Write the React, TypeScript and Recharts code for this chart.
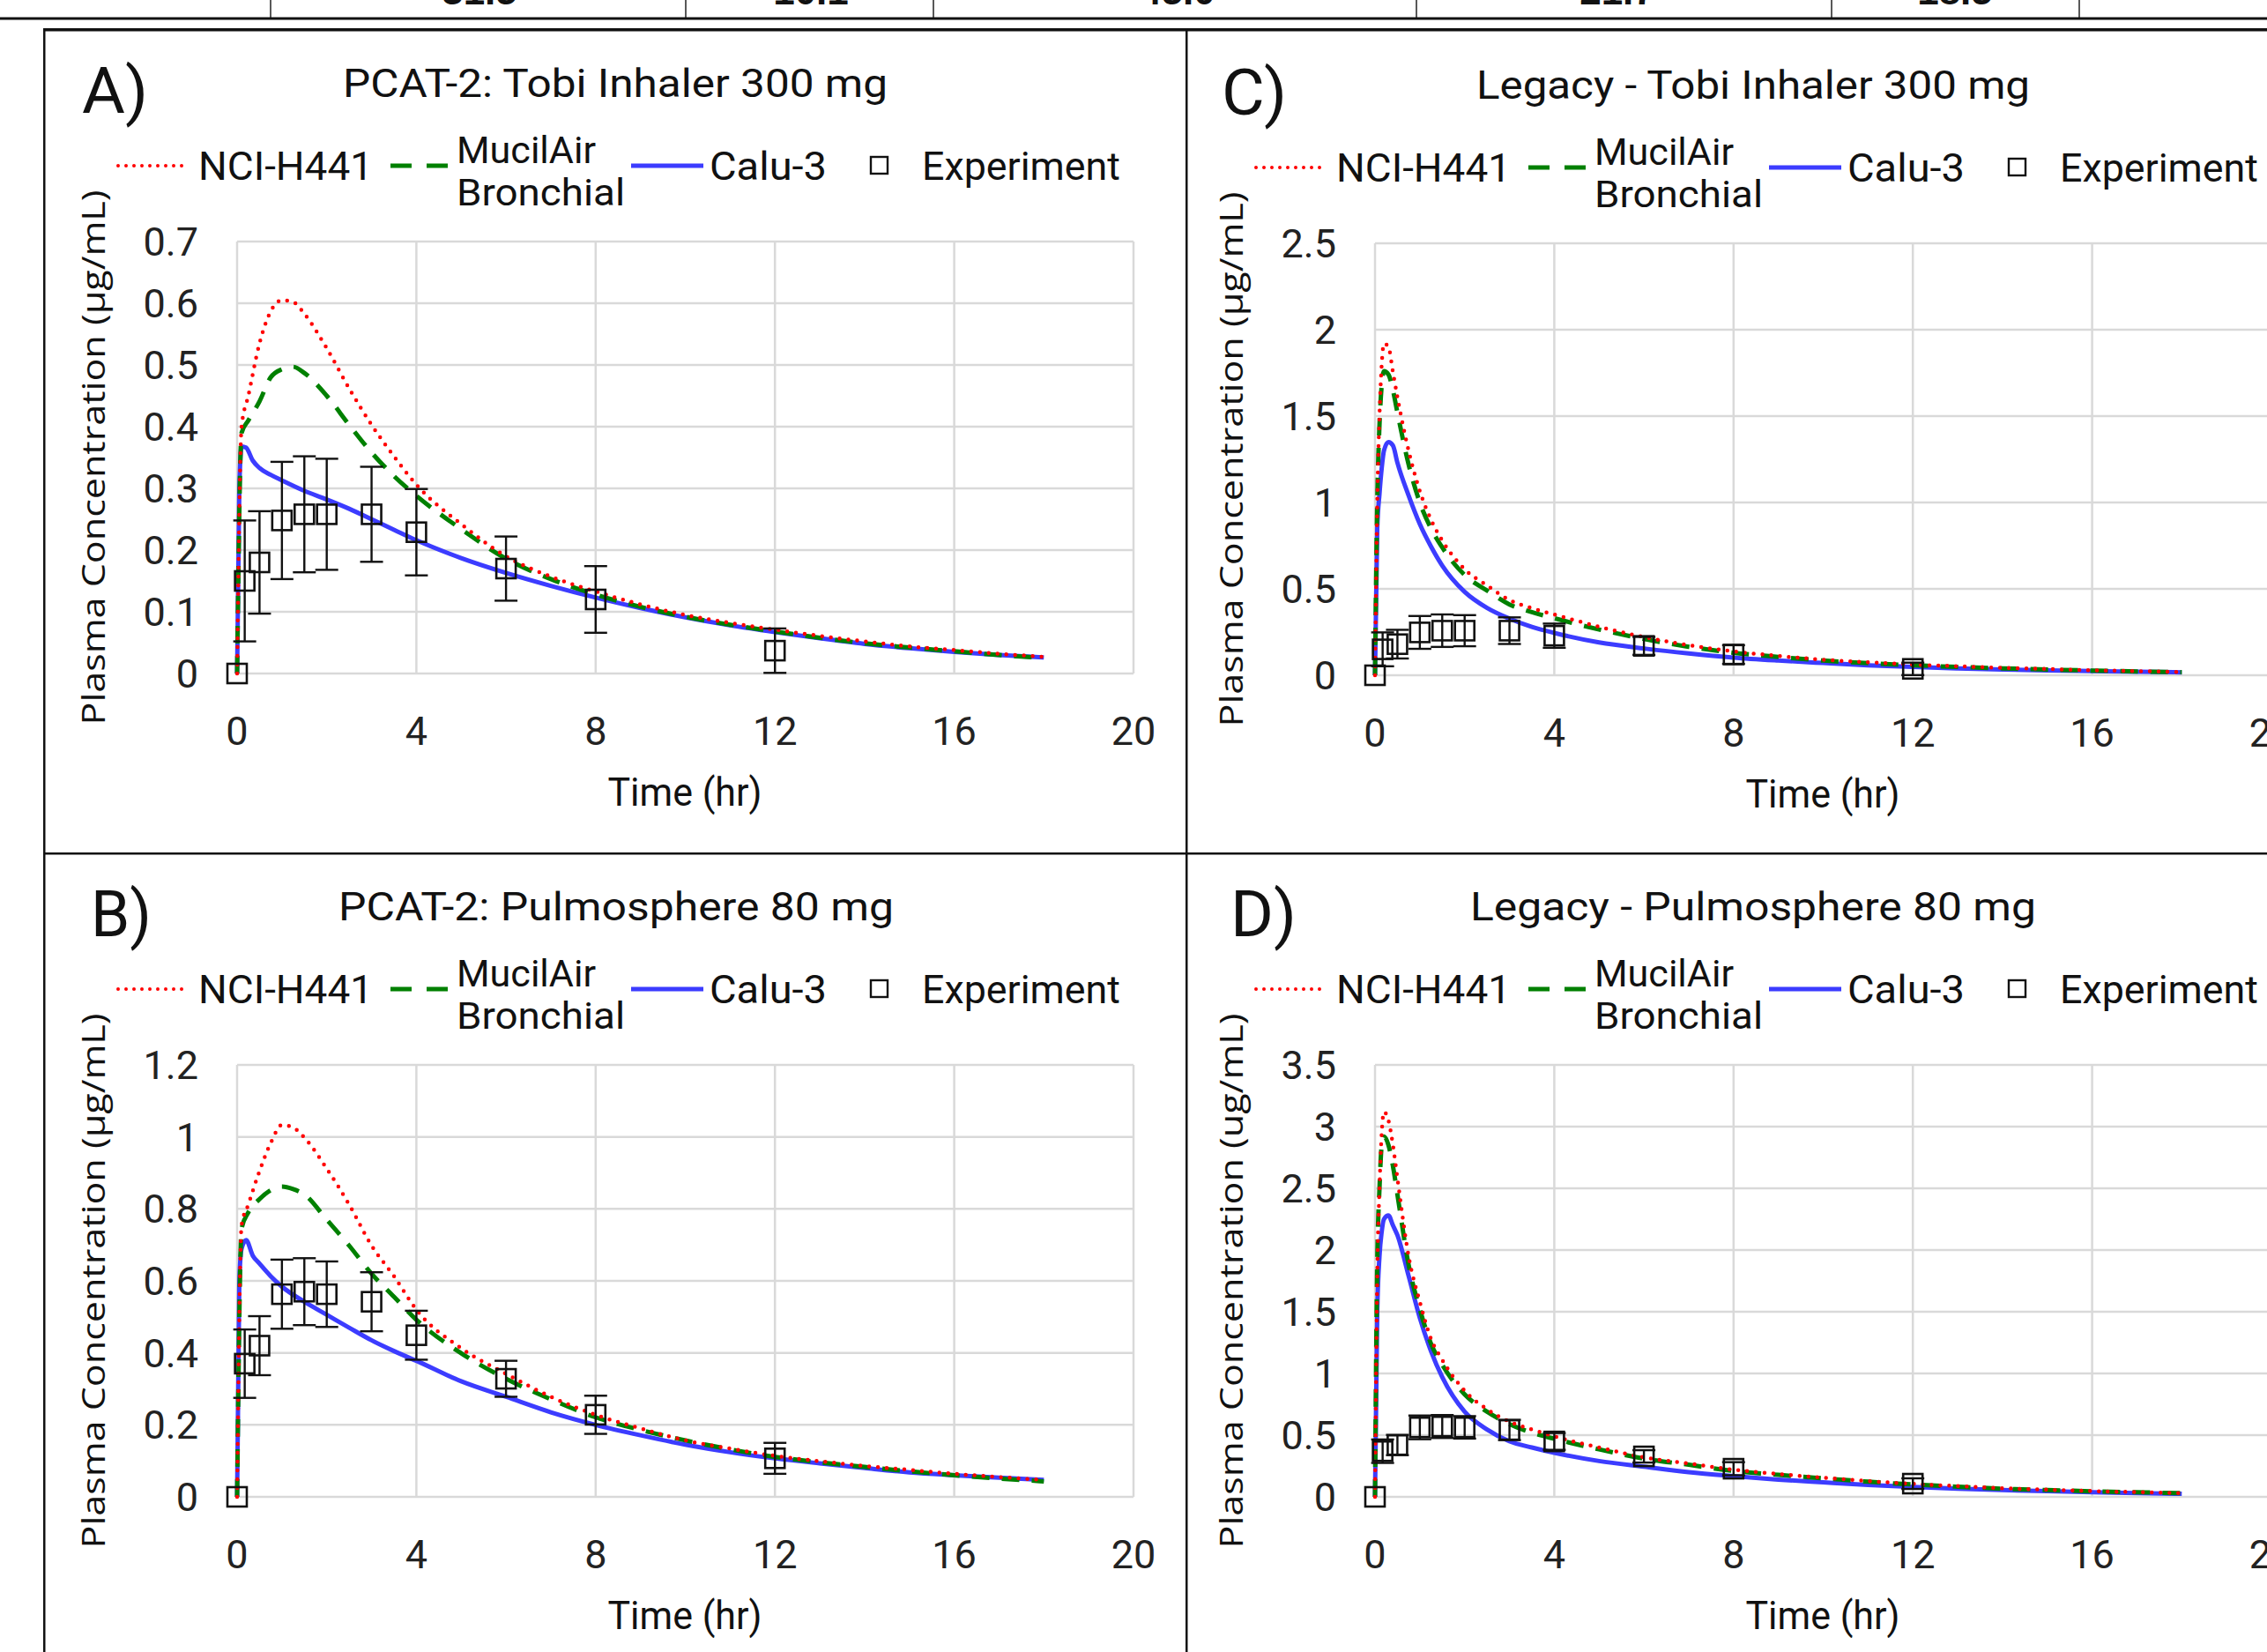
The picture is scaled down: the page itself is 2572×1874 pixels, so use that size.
import React from 'react';
import { ComposedChart, Line, Scatter, ErrorBar, XAxis, YAxis, CartesianGrid } from 'recharts';

// time grids (hr)
const tModel = [0, 0.1, 0.25, 0.5, 0.75, 1, 1.25, 1.5, 2, 2.5, 3, 3.5, 4, 5, 6, 7, 8, 9, 10, 11, 12, 13, 14, 15, 16, 17, 18];
const tCalu = [0, 0.05, 0.1, 0.2, 0.35, 0.5, 0.75, 1, 1.5, 2, 2.5, 3, 3.5, 4, 5, 6, 7, 8, 9, 10, 11, 12, 13, 14, 15, 16, 17, 18];
const tLegacy = [0, 0.05, 0.1, 0.15, 0.2, 0.3, 0.4, 0.5, 0.75, 1, 1.25, 1.5, 2, 2.5, 3, 3.5, 4, 5, 6, 7, 8, 9, 10, 11, 12, 13, 14, 15, 16, 17, 18];
const tExp = [0, 0.17, 0.5, 1, 1.5, 2, 3, 4, 6, 8, 12];

// A) PCAT-2: Tobi Inhaler 300 mg
const nciA = [0, 0.40, 0.45, 0.535, 0.587, 0.605, 0.602, 0.583, 0.527, 0.462, 0.403, 0.352, 0.306, 0.242, 0.19, 0.157, 0.133, 0.112, 0.095, 0.082, 0.071, 0.061, 0.052, 0.044, 0.038, 0.032, 0.027];
const mucA = [0, 0.39, 0.41, 0.441, 0.48, 0.493, 0.497, 0.487, 0.45, 0.403, 0.358, 0.32, 0.288, 0.234, 0.186, 0.153, 0.128, 0.108, 0.092, 0.079, 0.068, 0.058, 0.049, 0.042, 0.036, 0.030, 0.025];
const caluA = [0, 0.30, 0.368, 0.366, 0.345, 0.333, 0.322, 0.313, 0.296, 0.282, 0.267, 0.25, 0.233, 0.216, 0.187, 0.163, 0.142, 0.123, 0.106, 0.091, 0.078, 0.067, 0.057, 0.048, 0.041, 0.035, 0.030, 0.026];

// B) PCAT-2: Pulmosphere 80 mg
const nciB = [0, 0.755, 0.812, 0.905, 0.983, 1.033, 1.026, 0.998, 0.912, 0.812, 0.698, 0.613, 0.52, 0.413, 0.342, 0.278, 0.228, 0.19, 0.157, 0.134, 0.114, 0.099, 0.086, 0.075, 0.064, 0.055, 0.047];
const mucB = [0, 0.745, 0.79, 0.827, 0.852, 0.862, 0.855, 0.84, 0.77, 0.698, 0.62, 0.556, 0.492, 0.399, 0.328, 0.271, 0.221, 0.186, 0.157, 0.132, 0.111, 0.096, 0.083, 0.071, 0.06, 0.051, 0.043];
const caluB = [0, 0.6, 0.69, 0.713, 0.67, 0.648, 0.613, 0.584, 0.542, 0.506, 0.47, 0.435, 0.405, 0.378, 0.321, 0.278, 0.235, 0.2, 0.171, 0.145, 0.124, 0.107, 0.093, 0.08, 0.068, 0.06, 0.053, 0.047];

// C) Legacy - Tobi Inhaler 300 mg
const nciC = [0, 1.0, 1.5, 1.8, 1.92, 1.9, 1.755, 1.61, 1.30, 1.066, 0.9, 0.78, 0.614, 0.52, 0.435, 0.388, 0.352, 0.281, 0.221, 0.174, 0.138, 0.112, 0.09, 0.075, 0.062, 0.052, 0.043, 0.036, 0.029, 0.024, 0.019];
const mucC = [0, 1.0, 1.45, 1.68, 1.76, 1.74, 1.65, 1.52, 1.22, 1.0, 0.85, 0.74, 0.58, 0.49, 0.41, 0.365, 0.33, 0.265, 0.21, 0.165, 0.13, 0.106, 0.085, 0.07, 0.058, 0.048, 0.04, 0.033, 0.027, 0.022, 0.018];
const caluC = [0, 0.85, 1.05, 1.2, 1.3, 1.35, 1.33, 1.23, 1.04, 0.875, 0.745, 0.635, 0.483, 0.39, 0.328, 0.28, 0.245, 0.19, 0.155, 0.126, 0.102, 0.085, 0.071, 0.058, 0.048, 0.04, 0.033, 0.028, 0.024, 0.02, 0.017];

// D) Legacy - Pulmosphere 80 mg
const nciD = [0, 1.8, 2.5, 2.95, 3.12, 3.05, 2.85, 2.58, 1.95, 1.58, 1.28, 1.11, 0.86, 0.71, 0.61, 0.546, 0.49, 0.40, 0.32, 0.27, 0.22, 0.185, 0.155, 0.128, 0.105, 0.087, 0.07, 0.058, 0.047, 0.038, 0.03];
const mucD = [0, 1.9, 2.5, 2.85, 2.92, 2.85, 2.68, 2.45, 1.88, 1.52, 1.24, 1.07, 0.83, 0.69, 0.59, 0.52, 0.47, 0.385, 0.31, 0.26, 0.21, 0.178, 0.15, 0.123, 0.1, 0.082, 0.066, 0.055, 0.045, 0.037, 0.03];
const caluD = [0, 1.5, 1.95, 2.15, 2.25, 2.28, 2.2, 2.12, 1.79, 1.45, 1.18, 0.97, 0.69, 0.546, 0.45, 0.40, 0.357, 0.29, 0.244, 0.2, 0.168, 0.14, 0.118, 0.097, 0.08, 0.066, 0.055, 0.046, 0.038, 0.031, 0.025];

// experiment (mean, sd)
const tobiMean = [0, 0.15, 0.18, 0.248, 0.258, 0.258, 0.258, 0.229, 0.17, 0.12, 0.037];
const tobiSd = [0, 0.098, 0.083, 0.095, 0.094, 0.09, 0.077, 0.07, 0.052, 0.054, 0.036];
const pulmoMean = [0, 0.37, 0.42, 0.563, 0.57, 0.563, 0.542, 0.449, 0.328, 0.228, 0.107];
const pulmoSd = [0, 0.095, 0.082, 0.096, 0.093, 0.091, 0.082, 0.068, 0.05, 0.053, 0.043];

const xTicks = [0, 4, 8, 12, 16, 20];
const yTicksA = [0, 0.1, 0.2, 0.3, 0.4, 0.5, 0.6, 0.7];
const yTicksB = [0, 0.2, 0.4, 0.6, 0.8, 1, 1.2];
const yTicksC = [0, 0.5, 1, 1.5, 2, 2.5];
const yTicksD = [0, 0.5, 1, 1.5, 2, 2.5, 3, 3.5];

// top table row (only the bottom of it is visible)
const tableCells = ['31.5', '10.1', '45.0', '21.7', '18.5'];
const tableCellX = [544, 920, 1336, 1835, 2218];
const tableCols = [307, 778, 1059, 1607, 2078, 2359];

const RED = '#ff0000';
const GREEN = '#008000';
const BLUE = '#3c3cff';
const NARROW = 'Roboto, "Liberation Sans", sans-serif';

const pts = (ts: number[], vs: number[]) => ts.map((t, i) => ({ t, v: vs[i] }));
const expPts = (vs: number[], es: number[]) => tExp.map((t, i) => ({ t, v: vs[i], e: es[i] }));

const W = 1340;
const H = 935;

interface PanelProps {
  left: number;
  top: number;
  letter: string;
  letterX: number;
  letterW: number;
  title: string;
  titleX: number;
  titleW: number;
  yTitle: string;
  yTicks: number[];
  nci: { t: number; v: number }[];
  muc: { t: number; v: number }[];
  calu: { t: number; v: number }[];
  exp: { t: number; v: number; e: number }[];
}

const YTick = (p: any) => (
  <text x={p.x} y={p.y + 16} textAnchor="end" fontFamily={NARROW} fontSize={45} fill="#222">
    {String(p.payload.value)}
  </text>
);

const XTick = (p: any) => (
  <text x={p.x} y={p.y + 81} textAnchor="middle" fontFamily={NARROW} fontSize={45} fill="#222">
    {String(p.payload.value)}
  </text>
);

const Square = (p: any) => (
  <rect x={p.cx - 11} y={p.cy - 11} width={22} height={22} fill="none" stroke="#111" strokeWidth={2.6} />
);

const Panel: React.FC<PanelProps> = (props) => {
  const { left, top, letter, letterX, letterW, title, titleX, titleW, yTitle, yTicks } = props;
  const txt = { fontFamily: NARROW, fill: '#111', lengthAdjust: 'spacingAndGlyphs' as const };
  return (
    <div style={{ position: 'absolute', left, top, width: W, height: H }}>
      <ComposedChart width={W} height={H} margin={{ top: 274, right: W - 1286, bottom: 141, left: 209 }}>
        <CartesianGrid stroke="#d9d9d9" strokeWidth={2.5} />
        <XAxis
          type="number"
          dataKey="t"
          domain={[0, 20]}
          ticks={xTicks}
          height={30}
          axisLine={false}
          tickLine={false}
          tickSize={0}
          tickMargin={0}
          tick={XTick}
        />
        <YAxis
          type="number"
          dataKey="v"
          domain={[0, yTicks[yTicks.length - 1]]}
          ticks={yTicks}
          width={60}
          axisLine={false}
          tickLine={false}
          tickSize={0}
          tickMargin={44}
          tick={YTick}
        />
        <Line data={props.calu} dataKey="v" type="monotone" stroke={BLUE} strokeWidth={5} dot={false} activeDot={false} isAnimationActive={false} />
        <Line data={props.muc} dataKey="v" type="monotone" stroke={GREEN} strokeWidth={5} strokeDasharray="20 14" dot={false} activeDot={false} isAnimationActive={false} />
        <Line data={props.nci} dataKey="v" type="monotone" stroke={RED} strokeWidth={4.5} strokeDasharray="0 10" strokeLinecap="round" dot={false} activeDot={false} isAnimationActive={false} />
        <Scatter data={props.exp} dataKey="v" shape={Square} isAnimationActive={false}>
          <ErrorBar dataKey="e" direction="y" width={13} stroke="#111" strokeWidth={2.4} isAnimationActive={false} />
        </Scatter>
      </ComposedChart>
      <svg width={W} height={H} style={{ position: 'absolute', left: 0, top: 0, pointerEvents: 'none' }}>
        <text x={letterX} y={128} fontSize={72} textLength={letterW} {...txt}>{letter}</text>
        <text x={titleX} y={110} fontSize={44} textLength={titleW} {...txt}>{title}</text>
        {/* legend */}
        <line x1={134} x2={213} y1={188} y2={188} stroke={RED} strokeWidth={4} strokeDasharray="0 9" strokeLinecap="round" />
        <text x={225} y={204} fontSize={44} textLength={198} {...txt}>NCI-H441</text>
        <line x1={443} x2={508} y1={188} y2={188} stroke={GREEN} strokeWidth={5} strokeDasharray="24 17" />
        <text x={518} y={185} fontSize={42} textLength={158} {...txt}>MucilAir</text>
        <text x={518} y={233} fontSize={42} textLength={191} {...txt}>Bronchial</text>
        <line x1={716} x2={798} y1={188} y2={188} stroke={BLUE} strokeWidth={5} />
        <text x={805} y={204} fontSize={44} textLength={133} {...txt}>Calu-3</text>
        <rect x={988} y={178} width={19} height={19} fill="none" stroke="#111" strokeWidth={2.4} />
        <text x={1046} y={204} fontSize={44} textLength={225} {...txt}>Experiment</text>
        {/* axis titles */}
        <text x={777} y={914} fontSize={44} textAnchor="middle" textLength={175} {...txt}>Time (hr)</text>
        <text
          x={119}
          y={519}
          fontSize={37}
          textAnchor="middle"
          textLength={607}
          lengthAdjust="spacingAndGlyphs"
          fontFamily='"Open Sans", sans-serif'
          fill="#111"
          transform="rotate(-90 119 519)"
        >
          {yTitle}
        </text>
      </svg>
    </div>
  );
};

export default function App() {
  return (
    <div style={{ position: 'fixed', left: 0, top: 0, width: 2572, height: 1874, overflow: 'hidden', background: '#fff' }}>
      <Panel
        left={0}
        top={0}
        letter="A)"
        letterX={93}
        letterW={75}
        title="PCAT-2: Tobi Inhaler 300 mg"
        titleX={389}
        titleW={618}
        yTitle="Plasma Concentration (µg/mL)"
        yTicks={yTicksA}
        nci={pts(tModel, nciA)}
        muc={pts(tModel, mucA)}
        calu={pts(tCalu, caluA)}
        exp={expPts(tobiMean, tobiSd)}
      />
      <Panel
        left={1291}
        top={2}
        letter="C)"
        letterX={95}
        letterW={74}
        title="Legacy - Tobi Inhaler 300 mg"
        titleX={384}
        titleW={628}
        yTitle="Plasma Concentration (µg/mL)"
        yTicks={yTicksC}
        nci={pts(tLegacy, nciC)}
        muc={pts(tLegacy, mucC)}
        calu={pts(tLegacy, caluC)}
        exp={expPts(tobiMean, tobiSd)}
      />
      <Panel
        left={0}
        top={934}
        letter="B)"
        letterX={103}
        letterW={69}
        title="PCAT-2: Pulmosphere 80 mg"
        titleX={384}
        titleW={630}
        yTitle="Plasma Concentration (µg/mL)"
        yTicks={yTicksB}
        nci={pts(tModel, nciB)}
        muc={pts(tModel, mucB)}
        calu={pts(tCalu, caluB)}
        exp={expPts(pulmoMean, pulmoSd)}
      />
      <Panel
        left={1291}
        top={934}
        letter="D)"
        letterX={105}
        letterW={75}
        title="Legacy - Pulmosphere 80 mg"
        titleX={377}
        titleW={642}
        yTitle="Plasma Concentration (ug/mL)"
        yTicks={yTicksD}
        nci={pts(tLegacy, nciD)}
        muc={pts(tLegacy, mucD)}
        calu={pts(tLegacy, caluD)}
        exp={expPts(pulmoMean, pulmoSd)}
      />
      <svg width={2572} height={1874} style={{ position: 'absolute', left: 0, top: 0, pointerEvents: 'none' }}>
        {tableCells.map((c, i) => (
          <text key={c} x={tableCellX[i]} y={5} textAnchor="middle" fontFamily='"Liberation Sans", sans-serif' fontWeight="bold" fontSize={44} fill="#111">
            {c}
          </text>
        ))}
        {tableCols.map((x) => (
          <line key={x} x1={x} x2={x} y1={0} y2={21} stroke="#222" strokeWidth={1.5} />
        ))}
        <rect x={0} y={19.5} width={2572} height={3} fill="#111" />
        <rect x={49} y={32} width={2523} height={3.5} fill="#111" />
        <rect x={49} y={32} width={2.5} height={1842} fill="#111" />
        <rect x={1345} y={32} width={2.5} height={1842} fill="#111" />
        <rect x={49} y={967} width={2523} height={2.5} fill="#111" />
      </svg>
    </div>
  );
}
